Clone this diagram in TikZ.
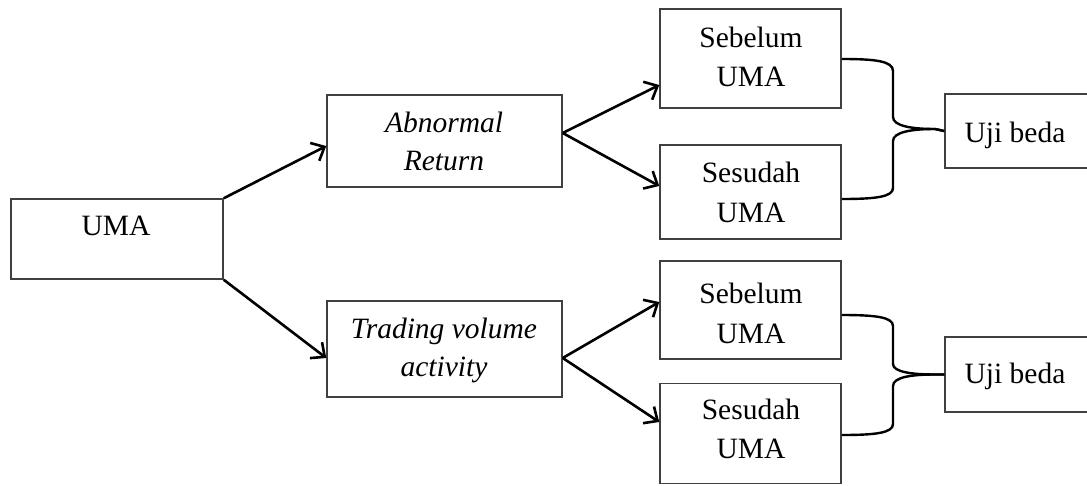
\documentclass[tikz,border=0pt]{standalone}
\usepackage{fontspec}
\setmainfont{Liberation Serif}
\usetikzlibrary{arrows.meta}
\begin{document}
\begin{tikzpicture}[x=1pt,y=-1pt,
  box/.style={draw=black!75,line width=1.5pt,minimum width=#1,inner sep=0pt},
  txt/.style={anchor=base,inner sep=0pt,font=\fontsize{29.5}{39}\selectfont},
  arr/.style={line width=2.6pt,-{Straight Barb[length=11pt,width=20pt,line width=2.6pt]}},
  brace/.style={line width=2.4pt}]
\useasboundingbox (0,0) rectangle (1087,485);
\clip (0,0) rectangle (1087,485);

% boxes
\node[box=212pt,minimum height=80pt]  (uma) at (117,239) {};
\node[box=235pt,minimum height=92pt]  (ar)  at (444.5,141) {};
\node[box=235pt,minimum height=96pt]  (tva) at (444.5,349) {};
\node[box=181pt,minimum height=99pt]  (sb1) at (750.5,58.5) {};
\node[box=181pt,minimum height=94pt]  (ss1) at (750.5,192) {};
\node[box=181pt,minimum height=98pt]  (sb2) at (750.5,310) {};
\node[box=181pt,minimum height=100pt] (ss2) at (750.5,433.5) {};
\node[box=150pt,minimum height=74pt]  (uj1) at (1020,131) {};
\node[box=150pt,minimum height=75pt]  (uj2) at (1020,374.5) {};

% labels
\node[txt] (tuma) at (116,235) {UMA};
\node[txt] (tar1) at (444,132) {\itshape Abnormal};
\node[txt] (tar2) at (444,170) {\itshape Return};
\node[txt] (ttv1) at (444,338) {\itshape Trading volume};
\node[txt] (ttv2) at (444,376) {\itshape activity};
\node[txt] (tsb1a) at (751,47) {Sebelum};
\node[txt] (tsb1b) at (751,86) {UMA};
\node[txt] (tss1a) at (751,182) {Sesudah};
\node[txt] (tss1b) at (751,222) {UMA};
\node[txt] (tsb2a) at (751,303) {Sebelum};
\node[txt] (tsb2b) at (751,343) {UMA};
\node[txt] (tss2a) at (751,419) {Sesudah};
\node[txt] (tss2b) at (751,458) {UMA};
\node[txt] (tuj1) at (1015,142) {Uji beda};
\node[txt] (tuj2) at (1015,383) {Uji beda};

% arrows
\draw[arr] (uma.north east) -- (ar.west |- 0,146);
\draw[arr] (uma.south east) -- (tva.west |- 0,358);
\draw[arr] (ar.east |- 0,133) -- (sb1.west |- 0,85);
\draw[arr] (ar.east |- 0,133) -- (ss1.west |- 0,186);
\draw[arr] (tva.east |- 0,358) -- (sb2.west |- 0,302);
\draw[arr] (tva.east |- 0,358) -- (ss2.west |- 0,422);

% braces joining the pairs
\coordinate (j1) at (uj1.west);
\draw[brace] (sb1.east |- 0,59) .. controls (875,59) and (893,61) .. (893,71)
  -- (893,117) .. controls (893,126) and (912,129) .. (935,129) -- (j1);
\draw[brace] (ss1.east |- 0,199) .. controls (875,199) and (893,197) .. (893,188)
  -- (893,141) .. controls (893,132) and (912,129) .. (935,129) -- (j1);
\coordinate (j2) at (uj2.west);
\draw[brace] (sb2.east |- 0,315) .. controls (875,315) and (893,317) .. (893,326)
  -- (893,364) .. controls (893,372) and (912,374.5) .. (935,374.5) -- (j2);
\draw[brace] (ss2.east |- 0,435) .. controls (875,435) and (893,433) .. (893,424)
  -- (893,386) .. controls (893,377) and (912,374.5) .. (935,374.5) -- (j2);
\end{tikzpicture}
\end{document}
